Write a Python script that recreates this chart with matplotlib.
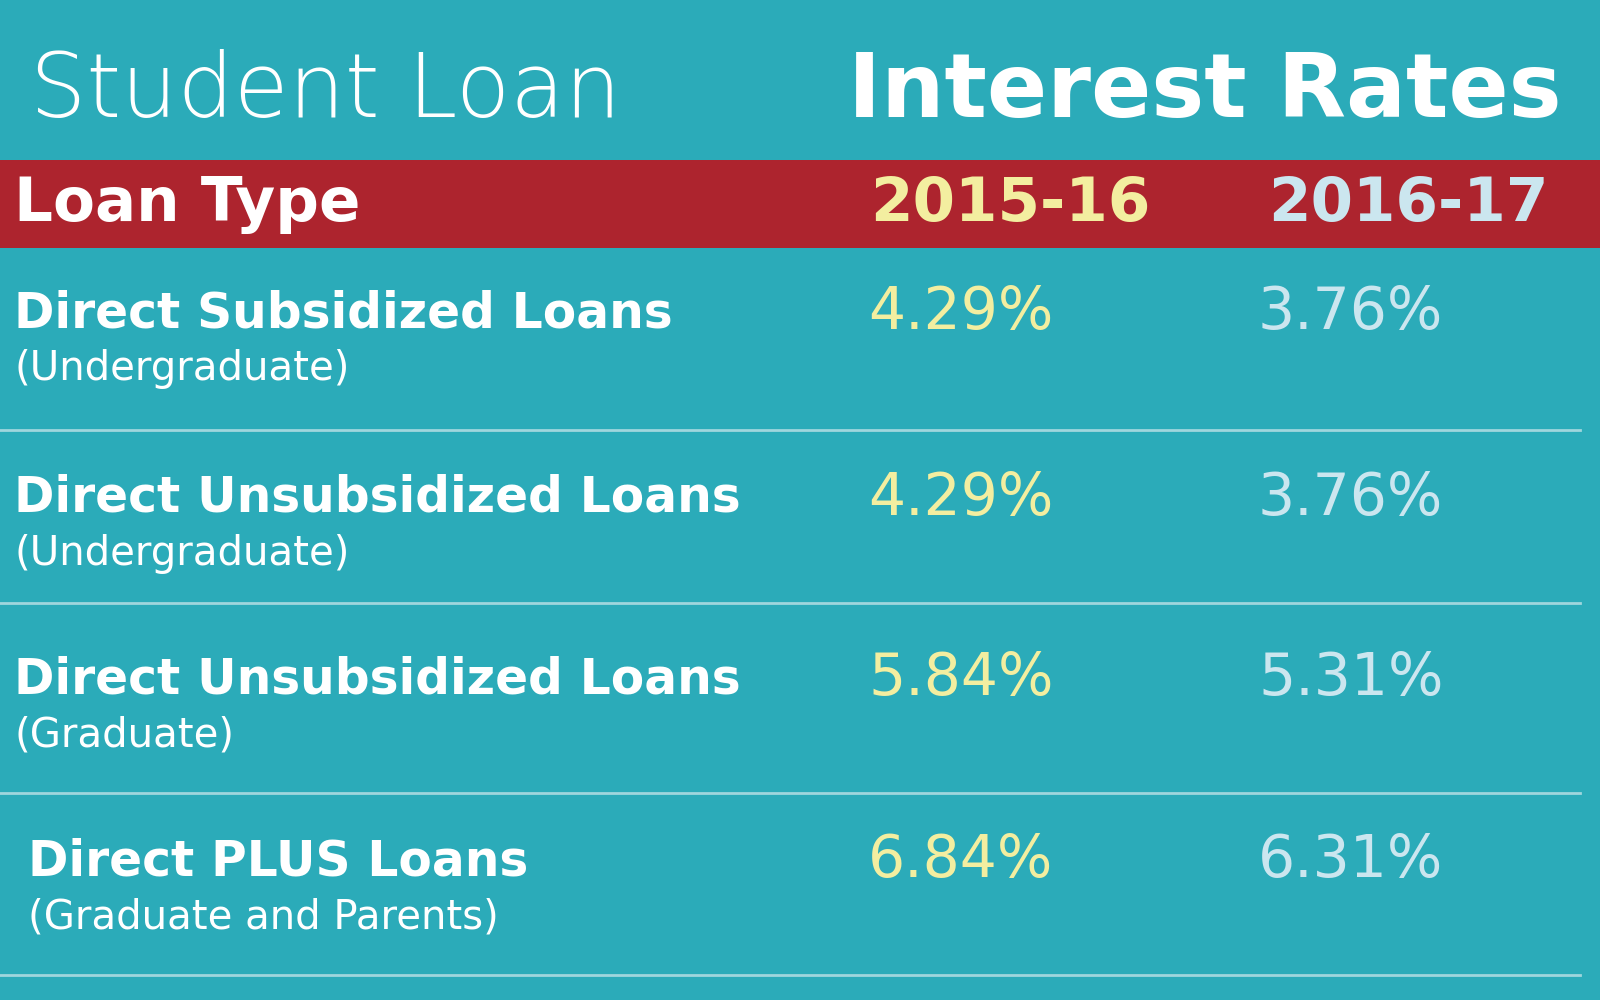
import matplotlib
matplotlib.use('Agg')
import matplotlib.pyplot as plt

# Table data
loan_types = ['Direct Subsidized Loans', 'Direct Unsubsidized Loans',
              'Direct Unsubsidized Loans', 'Direct PLUS Loans']
loan_notes = ['(Undergraduate)', '(Undergraduate)', '(Graduate)',
              '(Graduate and Parents)']
rates_2015 = [4.29, 4.29, 5.84, 6.84]
rates_2016 = [3.76, 3.76, 5.31, 6.31]
years = ['2015-16', '2016-17']

BG = '#2babb9'
RED = '#ad242e'
YELLOW = '#f3eea0'
LIGHTBLUE = '#cbe6ef'
FONT = 'DejaVu Sans'

fig = plt.figure(figsize=(16, 10), dpi=100)
fig.patch.set_facecolor(BG)
ax = fig.add_axes([0, 0, 1, 1])
ax.set_xlim(0, 1600)
ax.set_ylim(1000, 0)
ax.axis('off')
ax.set_facecolor(BG)

# Title
ax.text(30, 92, 'Student Loan', fontsize=64, color='white', family=FONT,
        weight='light', va='center', ha='left')
ax.text(1562, 92, 'Interest Rates', fontsize=64, color='white', family=FONT,
        weight='bold', va='center', ha='right')

# Header band
ax.add_patch(plt.Rectangle((0, 160), 1600, 88, color=RED, lw=0))
ax.text(14, 204, 'Loan Type', fontsize=44, color='white', family=FONT,
        weight='bold', va='center')
ax.text(1010, 204, years[0], fontsize=44, color=YELLOW, family=FONT,
        weight='bold', va='center', ha='center')
ax.text(1408, 204, years[1], fontsize=44, color=LIGHTBLUE, family=FONT,
        weight='bold', va='center', ha='center')

# Rows
row_top = [313, 498, 679, 861]
seps = [430, 603, 793, 975]
for i, (name, note) in enumerate(zip(loan_types, loan_notes)):
    x0 = 28 if i == 3 else 14
    y = row_top[i]
    ax.text(x0, y, name, fontsize=35, color='white', family=FONT,
            weight='bold', va='center')
    ax.text(x0, y + 56, note, fontsize=29, color='white', family=FONT,
            va='center')
    ax.text(868, y, f'{rates_2015[i]:.2f}%', fontsize=42, color=YELLOW,
            family=FONT, va='center')
    ax.text(1258, y, f'{rates_2016[i]:.2f}%', fontsize=42, color=LIGHTBLUE,
            family=FONT, va='center')
    ax.plot([0, 1580], [seps[i], seps[i]], color='#9fd6dd', lw=2)

fig.savefig('out.png', dpi=100, facecolor=BG)
